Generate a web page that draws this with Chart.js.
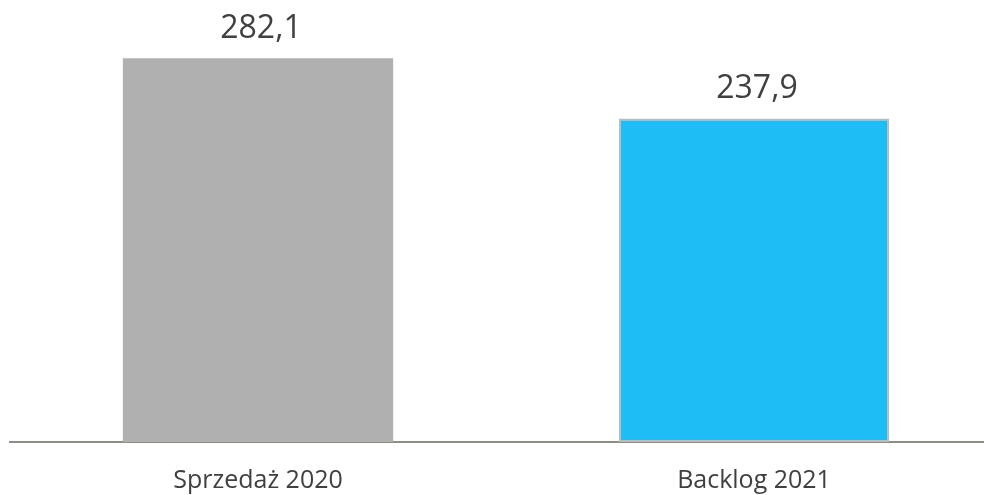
<!DOCTYPE html>
<html>
<head>
<meta charset="utf-8">
<script src="https://cdn.jsdelivr.net/npm/chart.js@4"></script>
<style>
  html, body { margin: 0; padding: 0; background: #ffffff; }
  #wrap { width: 984px; height: 495px; }
</style>
</head>
<body>
<div id="wrap"><canvas id="barChart"></canvas></div>
<script>
const categories = ['Sprzedaż 2020', 'Backlog 2021'];
const values = [282.1, 237.9];
const valueLabels = ['282,1', '237,9'];
const barColors = ['#b0b0b0', '#1fbdf5'];
const barBorders = ['#b0b0b0', '#bcbcbc'];

// draws the numbers above each bar
const topLabels = {
  id: 'topLabels',
  afterLayout(chart) {
    // the original plot runs a little past the right edge of the picture
    const x = chart.scales.x;
    x.right = 1002;
    x.width = x.right - x.left;
    x.configure();
  },
  afterDatasetsDraw(chart) {
    const ctx = chart.ctx;
    const meta = chart.getDatasetMeta(0);
    ctx.save();
    ctx.font = '32px "Open Sans"';
    ctx.fillStyle = '#404040';
    ctx.textAlign = 'center';
    ctx.textBaseline = 'alphabetic';
    meta.data.forEach((bar, i) => {
      ctx.fillText(valueLabels[i], bar.x + 3, bar.y - 20);
    });
    ctx.restore();
  }
};

const chart = document.getElementById('barChart');
new Chart(chart, {
  type: 'bar',
  data: {
    labels: categories,
    datasets: [{
      data: values,
      backgroundColor: barColors,
      borderColor: barBorders,
      borderWidth: [0, 2],
      borderSkipped: false,
      barPercentage: 0.545,
      categoryPercentage: 1
    }]
  },
  options: {
    responsive: true,
    maintainAspectRatio: false,
    animation: false,
    layout: { padding: { top: 34, left: 10, right: 0, bottom: 0 } },
    plugins: { legend: { display: false }, tooltip: { enabled: false } },
    scales: {
      x: {
        grid: { display: false, drawTicks: false },
        border: { display: true, color: '#8f8b85', width: 2 },
        ticks: { color: '#404040', font: { family: 'Open Sans', size: 25 }, padding: 24 },
        afterFit(scale) { scale.height = 53; }
      },
      y: {
        display: false,
        min: 0,
        max: 300
      }
    }
  },
  plugins: [topLabels]
});
</script>
</body>
</html>
